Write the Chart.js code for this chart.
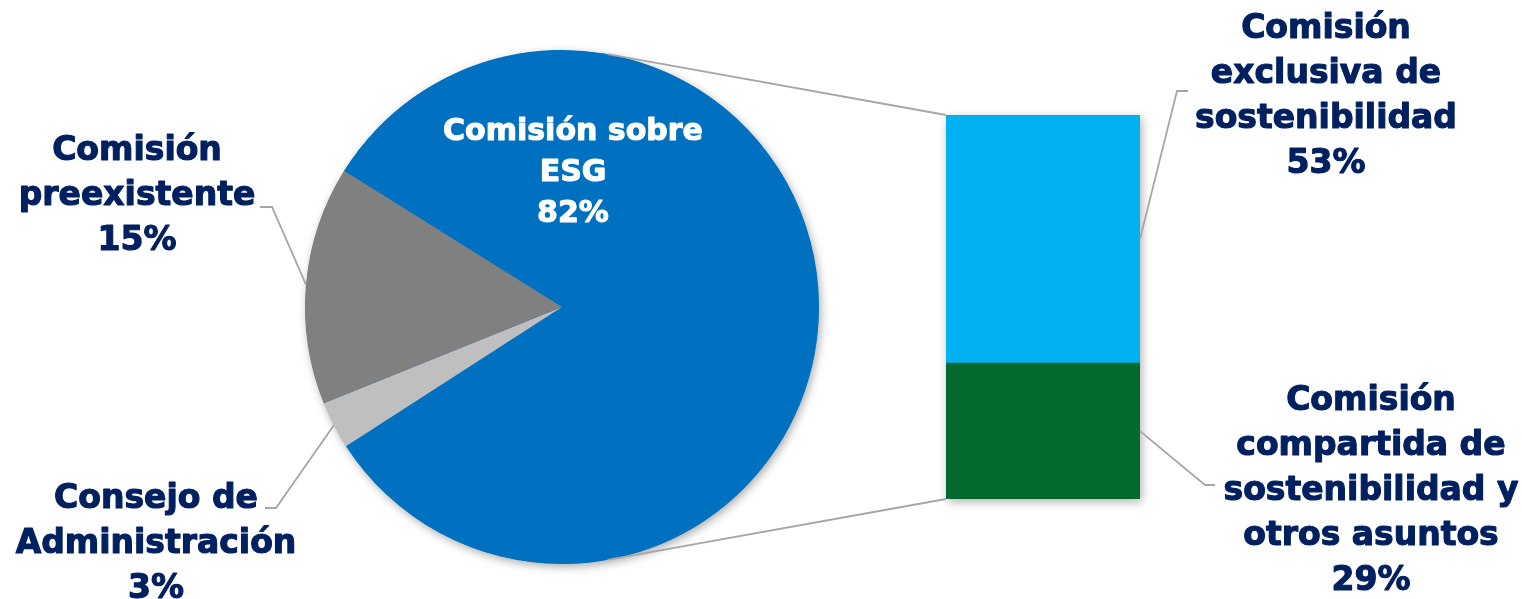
<!DOCTYPE html>
<html>
<head>
<meta charset="utf-8">
<script src="https://cdn.jsdelivr.net/npm/chart.js@4.4.1/dist/chart.umd.min.js"></script>
<style>
  html, body { margin: 0; padding: 0; background: #ffffff; }
  #wrap { position: relative; width: 1522px; height: 599px; }
  canvas { position: absolute; left: 0; top: 0; }
</style>
</head>
<body>
<div id="wrap">
  <canvas id="pie" width="1522" height="599"></canvas>
  <canvas id="bar" width="1522" height="599"></canvas>
</div>
<script>
// ---- Data ----
const pieCategories = [
  ['Comisión sobre', 'ESG'],
  ['Consejo de', 'Administración'],
  ['Comisión', 'preexistente']
];
const pieValues = [82, 3, 15];
const pieColors = ['#0070C0', '#BFBFBF', '#808080'];

const barCategories = [
  ['Comisión', 'compartida de', 'sostenibilidad y', 'otros asuntos'],
  ['Comisión', 'exclusiva de', 'sostenibilidad']
];
const barValues = [29, 53];
const barColors = ['#03692E', '#00B0F0'];

const TEXT_NAVY = '#002060';
const LEADER = '#A6A6A6';
const FONT = '"DejaVu Sans", Verdana, sans-serif';

// ---- Pie chart ----
const pieShadow = {
  id: 'pieShadow',
  beforeDatasetsDraw(chart) {
    const arc = chart.getDatasetMeta(0).data[0];
    if (!arc) return;
    const ctx = chart.ctx;
    ctx.save();
    ctx.shadowColor = 'rgba(0,0,0,0.35)';
    ctx.shadowBlur = 10;
    ctx.shadowOffsetX = 2;
    ctx.shadowOffsetY = 3;
    ctx.fillStyle = pieColors[0];
    ctx.beginPath();
    ctx.arc(arc.x, arc.y, arc.outerRadius - 0.5, 0, Math.PI * 2);
    ctx.fill();
    ctx.restore();
  }
};

const pieChart = new Chart(document.getElementById('pie'), {
  type: 'pie',
  data: {
    labels: pieCategories.map(l => l.join(' ')),
    datasets: [{
      data: pieValues,
      backgroundColor: pieColors,
      borderWidth: 0
    }]
  },
  options: {
    responsive: false,
    animation: false,
    rotation: 302,
    layout: { padding: { left: 305, right: 703, top: 50, bottom: 35 } },
    plugins: { legend: { display: false }, tooltip: { enabled: false } }
  },
  plugins: [pieShadow]
});

// ---- Bar chart + annotations ----
const barTotal = barValues.reduce((a, b) => a + b, 0);

function drawLines(ctx, pts) {
  ctx.beginPath();
  ctx.moveTo(pts[0][0], pts[0][1]);
  for (let i = 1; i < pts.length; i++) ctx.lineTo(pts[i][0], pts[i][1]);
  ctx.stroke();
}
function drawLabel(ctx, lines, x, y0, step, size, color) {
  ctx.font = 'bold ' + size + 'px ' + FONT;
  ctx.fillStyle = color;
  ctx.strokeStyle = color;
  ctx.lineWidth = 1.1;
  ctx.lineJoin = 'round';
  ctx.textAlign = 'center';
  ctx.textBaseline = 'alphabetic';
  lines.forEach((t, i) => {
    ctx.fillText(t, x, y0 + i * step);
    ctx.strokeText(t, x, y0 + i * step);
  });
}
function tangent(cx, cy, r, px, py, pickTop) {
  const dx = px - cx, dy = py - cy;
  const d = Math.hypot(dx, dy);
  const base = Math.atan2(dy, dx);
  const a = Math.acos(r / d);
  const t1 = [cx + r * Math.cos(base - a), cy + r * Math.sin(base - a)];
  const t2 = [cx + r * Math.cos(base + a), cy + r * Math.sin(base + a)];
  if (pickTop) return t1[1] < t2[1] ? t1 : t2;
  return t1[1] > t2[1] ? t1 : t2;
}

const annotations = {
  id: 'annotations',
  beforeDatasetsDraw(chart) {
    const meta = chart.getDatasetMeta(0).data[0];
    const top = chart.getDatasetMeta(1).data[0];
    if (!meta || !top) return;
    const ctx = chart.ctx;
    const left = meta.x - meta.width / 2;
    ctx.save();
    ctx.shadowColor = 'rgba(0,0,0,0.3)';
    ctx.shadowBlur = 9;
    ctx.shadowOffsetX = 2;
    ctx.shadowOffsetY = 3;
    ctx.fillStyle = barColors[0];
    ctx.fillRect(left, top.y, meta.width, meta.base - top.y);
    ctx.restore();
  },
  afterDraw(chart) {
    const ctx = chart.ctx;
    const pm = pieChart.getDatasetMeta(0).data;
    const c = pm[0];
    const cx = c.x, cy = c.y, r = c.outerRadius;
    const bottomSeg = chart.getDatasetMeta(0).data[0];
    const topSeg = chart.getDatasetMeta(1).data[0];
    const bLeft = bottomSeg.x - bottomSeg.width / 2;
    const bRight = bottomSeg.x + bottomSeg.width / 2;
    const bTop = topSeg.y;
    const bBottom = bottomSeg.base;

    ctx.save();
    ctx.strokeStyle = LEADER;
    ctx.lineWidth = 1.8;

    // connectors pie -> bar
    const tTop = tangent(cx, cy, r, bLeft, bTop, true);
    const tBot = tangent(cx, cy, r, bLeft, bBottom, false);
    drawLines(ctx, [tTop, [bLeft, bTop]]);
    drawLines(ctx, [tBot, [bLeft, bBottom]]);

    // leader lines pie
    const mid = a => (a.startAngle + a.endAngle) / 2;
    const onCircle = a => [cx + r * Math.cos(mid(a)), cy + r * Math.sin(mid(a))];
    drawLines(ctx, [[260, 207], [272, 207], onCircle(pm[2])]);
    drawLines(ctx, [[265, 508], [276, 508], onCircle(pm[1])]);

    // leader lines bar
    const topMid = (topSeg.y + topSeg.base) / 2;
    const botMid = (bottomSeg.y + bottomSeg.base) / 2;
    drawLines(ctx, [[1188, 91], [1177, 91], [bRight, topMid]]);
    drawLines(ctx, [[bRight, botMid], [1205, 485], [1215, 485]]);
    ctx.restore();

    // labels
    ctx.save();
    drawLabel(ctx, [...pieCategories[0], pieValues[0] + '%'], 573, 140, 41, 30, '#FFFFFF');
    drawLabel(ctx, [...pieCategories[2], pieValues[2] + '%'], 137, 160, 45, 33, TEXT_NAVY);
    drawLabel(ctx, [...pieCategories[1], pieValues[1] + '%'], 156, 508, 45, 33, TEXT_NAVY);
    drawLabel(ctx, [...barCategories[1], barValues[1] + '%'], 1326, 38, 45, 33, TEXT_NAVY);
    drawLabel(ctx, [...barCategories[0], barValues[0] + '%'], 1371, 410, 45, 33, TEXT_NAVY);
    ctx.restore();
  }
};

new Chart(document.getElementById('bar'), {
  type: 'bar',
  data: {
    labels: ['Comisión sobre ESG'],
    datasets: barValues.map((v, i) => ({
      label: barCategories[i].join(' '),
      data: [v],
      backgroundColor: barColors[i],
      borderWidth: 0,
      barPercentage: 1,
      categoryPercentage: 1
    }))
  },
  options: {
    responsive: false,
    animation: false,
    layout: { padding: { left: 946, right: 382, top: 115, bottom: 100 } },
    scales: {
      x: { stacked: true, display: false },
      y: { stacked: true, display: false, min: 0, max: barTotal }
    },
    plugins: { legend: { display: false }, tooltip: { enabled: false } }
  },
  plugins: [annotations]
});
</script>
</body>
</html>
